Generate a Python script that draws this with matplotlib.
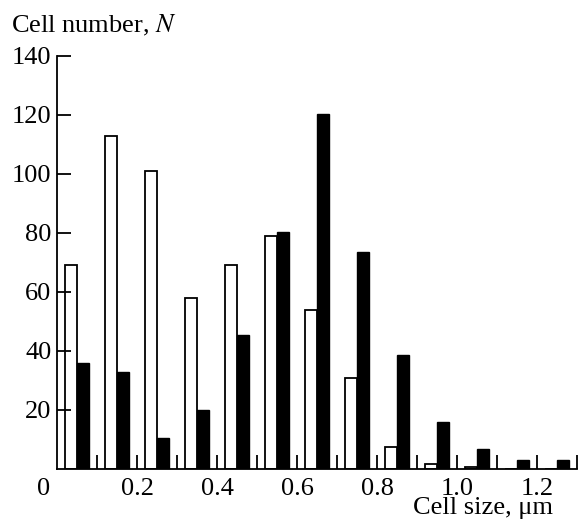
import matplotlib.pyplot as plt
import matplotlib.transforms as mtransforms

plt.rcParams['font.family'] = ['Liberation Serif', 'DejaVu Serif']
plt.rcParams['mathtext.fontset'] = 'stix'

# bin starts (cell size, um) and counts
bins = [0.0, 0.1, 0.2, 0.3, 0.4, 0.5, 0.6, 0.7, 0.8, 0.9, 1.0, 1.1, 1.2]
white_n = [69, 113, 101, 58, 69, 79, 54, 31, 7.6, 1.8, 0.8, 0, 0]
black_n = [36, 33, 10.6, 20, 45.3, 80.4, 120.3, 73.4, 38.6, 16, 6.7, 2.9, 2.9]

xticks = [0, 0.2, 0.4, 0.6, 0.8, 1.0, 1.2]
xticklabels = ['0', '0.2', '0.4', '0.6', '0.8', '1.0', '1.2']
yticks = [20, 40, 60, 80, 100, 120, 140]

fs = 19
fig = plt.figure(figsize=(5.78, 5.23), dpi=100)
ax = fig.add_axes([0.0986, 0.1033, 0.9, 0.7897])

w = 0.03
ax.bar([b + 0.02 for b in bins], white_n, width=w, align='edge',
       color='white', edgecolor='black', linewidth=1.3)
ax.bar([b + 0.05 for b in bins], black_n, width=w, align='edge',
       color='black', edgecolor='black', linewidth=1.0)

ax.set_xlim(0, 1.3)
ax.set_ylim(0, 140)
ax.spines['top'].set_visible(False)
ax.spines['right'].set_visible(False)
ax.spines['left'].set_linewidth(1.3)
ax.spines['bottom'].set_linewidth(1.3)

ax.set_xticks([0.1 * i for i in range(1, 14)])
ax.set_xticklabels([])
ax.tick_params(axis='x', direction='in', length=10, width=1.3)
ax.set_yticks(yticks)
ax.set_yticklabels([str(v) for v in yticks], fontsize=fs)
ax.tick_params(axis='y', direction='in', length=10, width=1.3, pad=4)

# x labels drawn as text under the axis
trans = mtransforms.blended_transform_factory(ax.transData, ax.transAxes)
for xv, lab in zip(xticks, xticklabels):
    if lab == '0':
        ax.text(-0.016, -0.063, lab, transform=trans, ha='right', va='baseline', fontsize=fs)
    else:
        ax.text(xv, -0.063, lab, transform=trans, ha='center', va='baseline', fontsize=fs)

fig.text(0.019, 0.937, 'Cell number, $\\mathit{N}$', fontsize=fs, ha='left', va='baseline')
fig.text(0.957, 0.017, 'Cell size, μm', fontsize=fs, ha='right', va='baseline')

fig.savefig('out.png', dpi=100)
